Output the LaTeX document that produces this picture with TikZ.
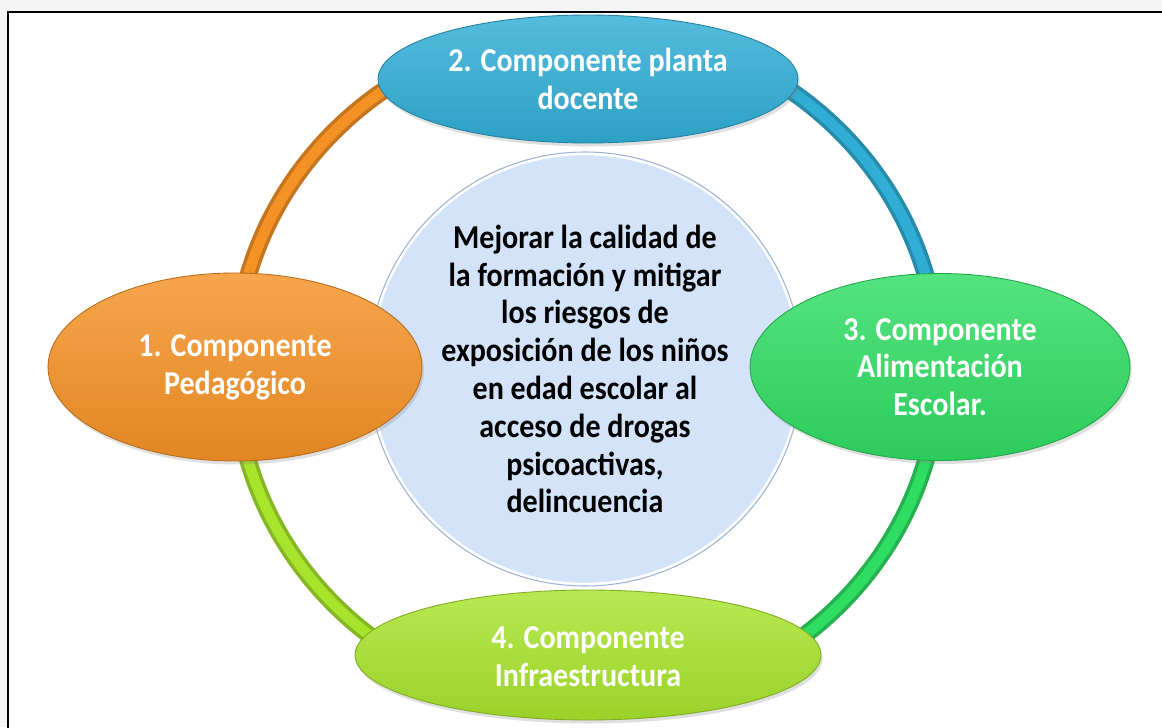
\documentclass[tikz,border=0pt]{standalone}
\usepackage{fontspec}
\setmainfont{Carlito}[FakeStretch=0.9]
\usetikzlibrary{shapes.geometric,shadows}

\definecolor{naranja}{HTML}{F59226}
\definecolor{azul}{HTML}{30AED5}
\definecolor{verde}{HTML}{2FDD63}
\definecolor{lima}{HTML}{A8E42C}
\definecolor{celeste}{HTML}{D2E3FA}
\definecolor{rand}{HTML}{9EB4D2}

\begin{document}
\begin{tikzpicture}[x=0.02cm,y=0.02cm,
  komp/.style={ellipse, inner sep=0pt, draw=#1!75!black, line width=0.5pt,
    top color=#1!82!white, bottom color=#1!92!black,
    drop shadow={opacity=0.25, shadow xshift=1pt, shadow yshift=-2pt}},
  kompText/.style={align=center, text=white, font=\fontsize{19}{21.5}\selectfont\bfseries},
  zielText/.style={align=center, text=black, font=\fontsize{19}{21.5}\selectfont\bfseries}]

% Halbachsen des Rings
\def\Rx{352}
\def\Ry{340}

% Hintergrund und Rahmen
\useasboundingbox (0,0) rectangle (1162,727);
\fill[gray!8] (0,0) rectangle (1162,727);
\fill[white] (8,-20) rectangle (1180,715);
\draw[line width=1.4pt] (8,-20) -- (8,715) -- (1180,715);

% Mittelpunkt des Rings
\coordinate (M) at (587,359);

% Ring (vier farbige Boegen)
\foreach \a/\b/\f in {90/180/naranja, 0/90/azul, -90/0/verde, 180/270/lima}{
  \draw[line width=10pt, \f!80!black]
    ([shift={({cos(\a)*\Rx},{sin(\a)*\Ry})}]M) arc[start angle=\a, end angle=\b, x radius=\Rx, y radius=\Ry];
  \draw[line width=6pt, \f]
    ([shift={({cos(\a)*\Rx},{sin(\a)*\Ry})}]M) arc[start angle=\a, end angle=\b, x radius=\Rx, y radius=\Ry];
}

% Zentraler Kreis
\node[circle, minimum size=8.64cm, inner sep=0pt, fill=celeste, draw=white,
  line width=2.5pt, zielText] (ziel) at (585,358)
  {Mejorar la calidad de\\la formación y mitigar\\los riesgos de\\exposición de los niños\\en edad escolar al\\acceso de drogas\\psicoactivas,\\delincuencia};
\draw[rand, line width=0.6pt] (ziel.center) circle (217);

% Komponenten
\node[komp=naranja, minimum width=7.48cm, minimum height=3.76cm] (k1) at (235,360) {};
\node[komp=azul, minimum width=8.4cm, minimum height=2.56cm] (k2) at (588,648) {};
\node[komp=verde, minimum width=7.6cm, minimum height=3.74cm] (k3) at (940,360) {};
\node[komp=lima, minimum width=9.32cm, minimum height=2.6cm] (k4) at (588,72) {};

% Beschriftungen
\node[kompText] (t1) at (k1) {1. Componente\\Pedagógico};
\node[kompText] (t2) at (k2) {2. Componente planta\\docente};
\node[kompText] (t3) at (k3) {3. Componente\\Alimentación\\Escolar.};
\node[kompText] (t4) at ([yshift=-0.04cm]k4) {4. Componente\\Infraestructura};

\end{tikzpicture}
\end{document}
